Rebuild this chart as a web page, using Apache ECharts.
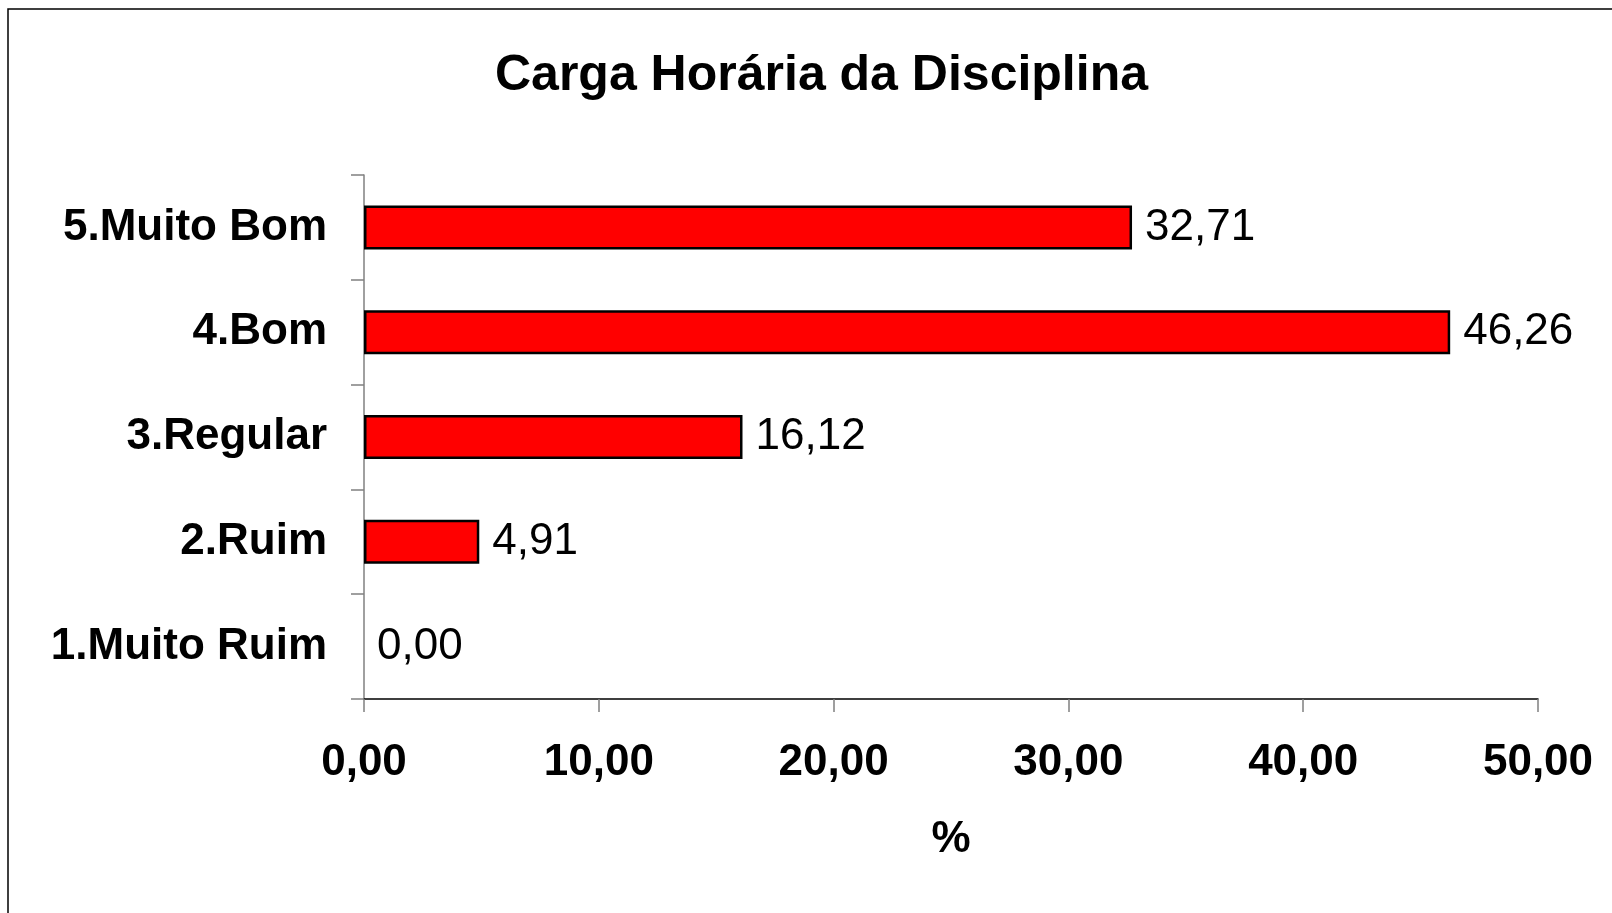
<!DOCTYPE html>
<html>
<head>
<meta charset="utf-8">
<title>Carga Horária da Disciplina</title>
<script src="https://cdn.jsdelivr.net/npm/echarts@6/dist/echarts.min.js"></script>
<style>
    html, body { margin: 0; padding: 0; background: #fff; }
    #chart { width: 1612px; height: 913px; }
</style>
</head>
<body>
<div id="chart"></div>
<script>
// categorias de baixo para cima (eixo de categorias horizontal)
var categories = ["1.Muito Ruim", "2.Ruim", "3.Regular", "4.Bom", "5.Muito Bom"];
var percentValues = [0.00, 4.91, 16.12, 46.26, 32.71];
var xTicks = [0, 10, 20, 30, 40, 50];

var fontName = "'Liberation Sans', Arial, sans-serif";

function fmtComma(v){
    return Number(v).toFixed(2).replace(".", ",");
}

// barra de valor zero sem contorno
var barData = percentValues.map(function(v){
    var item = { value: v };
    if(v == 0){
        item.itemStyle = { borderWidth: 0 };
    }
    return item;
});

var dom = document.getElementById("chart");
var myChart = echarts.init(dom, null, { renderer: "canvas" });

var option = {
    backgroundColor: "#fff",
    animation: false,
    title: {
        text: "Carga Horária da Disciplina",
        left: 495,
        top: 51,
        padding: 0,
        textStyle: {
            fontFamily: fontName,
            fontWeight: "bold",
            fontSize: 50,
            color: "#000"
        }
    },
    graphic: [
        {
            // moldura (só lados esquerdo e superior aparecem)
            type: "rect",
            shape: { x: 8, y: 9, width: 1700, height: 1000 },
            style: { fill: "none", stroke: "#000", lineWidth: 1.5 },
            silent: true
        }
    ],
    grid: {
        left: 364,
        right: 74,
        top: 175,
        bottom: 214,
        containLabel: false
    },
    xAxis: {
        type: "value",
        min: xTicks[0],
        max: xTicks[xTicks.length - 1],
        interval: 10,
        name: "%",
        nameLocation: "middle",
        nameGap: 119,
        nameTextStyle: {
            fontFamily: fontName,
            fontWeight: "bold",
            fontSize: 44,
            color: "#000"
        },
        axisLine: { show: true, lineStyle: { color: "#000", width: 1.5 } },
        axisTick: { show: true, length: 13, lineStyle: { color: "#808080", width: 1.5 } },
        splitLine: { show: false },
        axisLabel: {
            margin: 42,
            fontFamily: fontName,
            fontWeight: "bold",
            fontSize: 44,
            color: "#000",
            formatter: function(v){ return fmtComma(v); }
        }
    },
    yAxis: {
        type: "category",
        data: categories,
        axisLine: { show: true, lineStyle: { color: "#808080", width: 1.5 } },
        axisTick: { show: true, length: 13, alignWithLabel: false, lineStyle: { color: "#808080", width: 1.5 } },
        axisLabel: {
            margin: 37,
            fontFamily: fontName,
            fontWeight: "bold",
            fontSize: 44,
            color: "#000"
        }
    },
    series: [
        {
            type: "bar",
            data: barData,
            barWidth: "42%",
            itemStyle: {
                color: "#ff0000",
                borderColor: "#000",
                borderWidth: 2.5
            },
            label: {
                show: true,
                position: "right",
                distance: 13,
                fontFamily: fontName,
                fontSize: 44,
                color: "#000",
                formatter: function(p){ return fmtComma(p.value); }
            }
        }
    ]
};

if (option && typeof option === "object") {
    myChart.setOption(option, true);
}
</script>
</body>
</html>
